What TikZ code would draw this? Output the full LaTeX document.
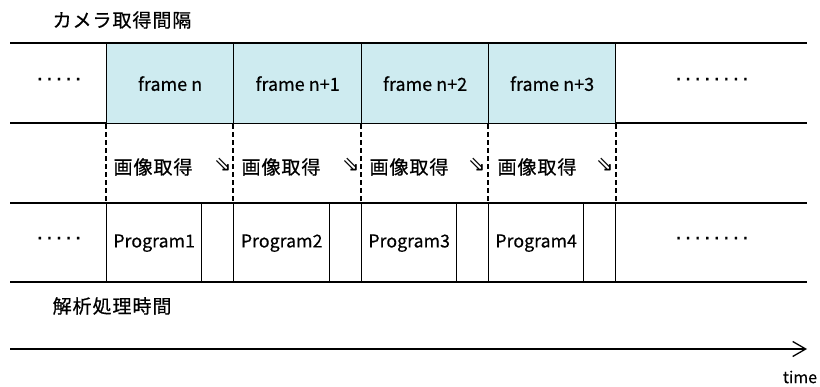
\documentclass[tikz,border=0pt]{standalone}
\usepackage{fontspec}
\setmainfont{Noto Sans CJK JP}
\newfontfamily\symfont{DejaVu Sans}
\usetikzlibrary{arrows.meta}
\definecolor{framefill}{RGB}{206,235,240}
\begin{document}
\begin{tikzpicture}[x=1pt,y=-1pt,line width=1.3pt,
  framebox/.style={draw,fill=framefill,minimum height=80pt,inner sep=0pt,anchor=north west,font=\fontsize{18}{20}\selectfont\addfontfeature{FakeBold=0.4}},
  progbox/.style={draw,minimum height=79pt,inner sep=0pt,anchor=north west,font=\fontsize{17.8}{20}\selectfont\addfontfeature{FakeBold=0.4}},
  jplabel/.style={inner sep=0pt,font=\fontsize{19}{21}\selectfont\addfontfeature{LetterSpace=5,FakeBold=0.6}},
  dotlabel/.style={inner sep=0pt,font=\symfont\fontsize{20}{22}\selectfont\addfontfeature{LetterSpace=16,FakeBold=1}},
  arrlabel/.style={inner sep=0pt,font=\symfont\fontsize{21}{23}\selectfont},
  dashline/.style={line width=2pt,dash pattern=on 5pt off 3pt},
  timeline/.style={line width=1.3pt,-{Straight Barb[length=13pt,width=15pt,line width=1.3pt]}}]
\useasboundingbox (0,0) rectangle (820,387);

% title
\node[jplabel,anchor=west] (title) at (52,20) {カメラ取得間隔};

% top row
\coordinate (tl1) at (10,43); \coordinate (tr1) at (807,43);
\coordinate (tl2) at (10,123); \coordinate (tr2) at (807,123);
\draw (tl1) -- (tr1);
\draw (tl2) -- (tr2);
\node[framebox,minimum width=127pt] (f1) at (106,43) {frame n};
\node[framebox,minimum width=128pt] (f2) at (233,43) {frame n+1};
\node[framebox,minimum width=127pt] (f3) at (361,43) {frame n+2};
\node[framebox,minimum width=127pt] (f4) at (488,43) {frame n+3};
\node[dotlabel] (d1) at (59,82) {·····};
\node[dotlabel] (d2) at (712,82) {········};

% bottom row
\coordinate (bl1) at (10,203); \coordinate (br1) at (807,203);
\coordinate (bl2) at (10,282); \coordinate (br2) at (807,282);
\draw (bl1) -- (br1);
\draw (bl2) -- (br2);
\node[progbox,minimum width=95pt] (p1) at (106,203) {Program1};
\node[progbox,minimum width=32pt] (g1) at (201,203) {};
\node[progbox,minimum width=96pt] (p2) at (233,203) {Program2};
\node[progbox,minimum width=32pt] (g2) at (329,203) {};
\node[progbox,minimum width=95pt] (p3) at (361,203) {Program3};
\node[progbox,minimum width=32pt] (g3) at (456,203) {};
\node[progbox,minimum width=95pt] (p4) at (488,203) {Program4};
\node[progbox,minimum width=32pt] (g4) at (583,203) {};
\node[dotlabel] (d3) at (59,241) {·····};
\node[dotlabel] (d4) at (712,241) {········};

% dashed separators
\draw[dashline] (f1.south west) -- (p1.north west);
\draw[dashline] (f2.south west) -- (p2.north west);
\draw[dashline] (f3.south west) -- (p3.north west);
\draw[dashline] (f4.south west) -- (p4.north west);
\draw[dashline] (f4.south east) -- (g4.north east);

% acquisition labels
\node[jplabel] (a1) at (153,167) {画像取得};
\node[jplabel] (a2) at (281,167) {画像取得};
\node[jplabel] (a3) at (409,167) {画像取得};
\node[jplabel] (a4) at (537,167) {画像取得};
\node[arrlabel] (r1) at (223,165) {⇘};
\node[arrlabel] (r2) at (351,165) {⇘};
\node[arrlabel] (r3) at (477,165) {⇘};
\node[arrlabel] (r4) at (605,165) {⇘};

% analysis label
\node[jplabel,anchor=west] (analysis) at (52,306) {解析処理時間};

% time axis
\coordinate (t0) at (10,349);
\coordinate (t1) at (807,349);
\draw[timeline] (t0) -- (t1);
\node[inner sep=0pt,font=\fontsize{16}{18}\selectfont\addfontfeature{FakeBold=0.4}] (time) at (800,377) {time};
\end{tikzpicture}
\end{document}
